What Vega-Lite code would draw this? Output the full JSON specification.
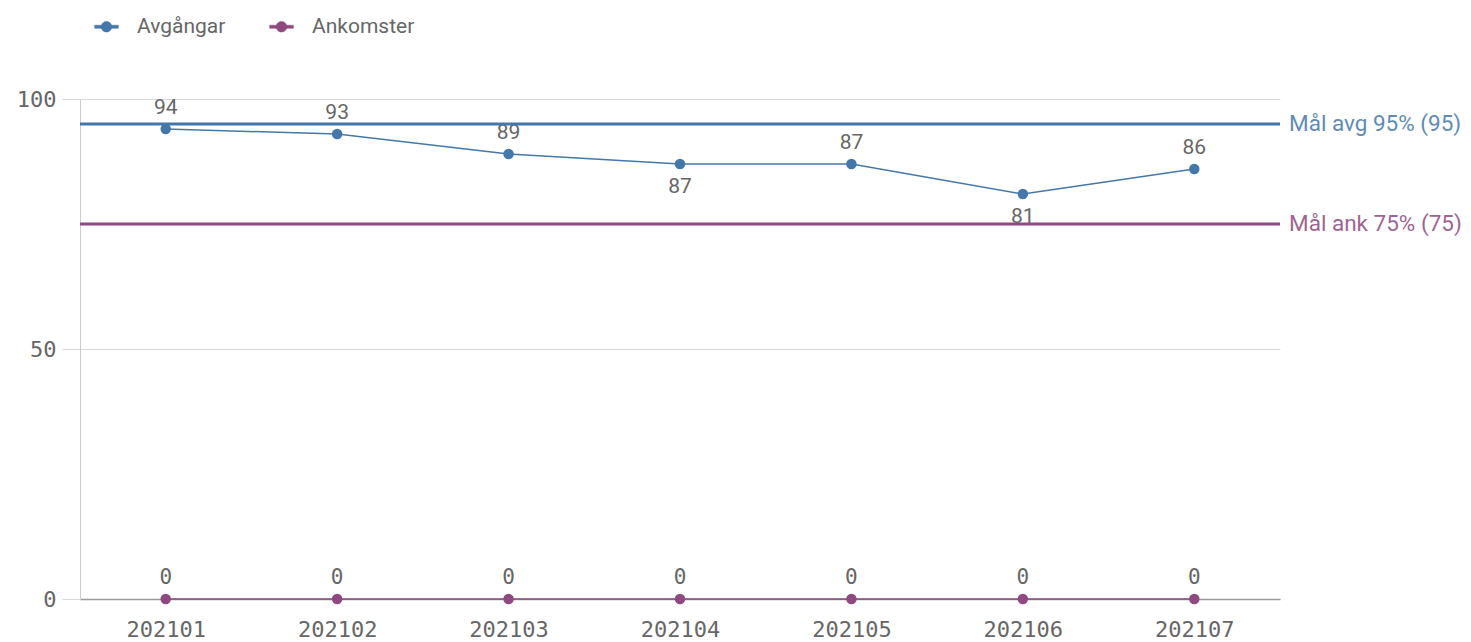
{
  "$schema": "https://vega.github.io/schema/vega-lite/v6.json",
  "width": 1200,
  "height": 500,
  "autosize": {"type": "none"},
  "padding": {"left": 80, "top": 99, "right": 191, "bottom": 43},
  "background": "white",
  "config": {
    "view": {"stroke": null},
    "font": "Roboto"
  },
  "datasets": {
    "series": [
      {"month": "202101", "series": "Avgångar", "value": 94},
      {"month": "202102", "series": "Avgångar", "value": 93},
      {"month": "202103", "series": "Avgångar", "value": 89},
      {"month": "202104", "series": "Avgångar", "value": 87},
      {"month": "202105", "series": "Avgångar", "value": 87},
      {"month": "202106", "series": "Avgångar", "value": 81},
      {"month": "202107", "series": "Avgångar", "value": 86},
      {"month": "202101", "series": "Ankomster", "value": 0},
      {"month": "202102", "series": "Ankomster", "value": 0},
      {"month": "202103", "series": "Ankomster", "value": 0},
      {"month": "202104", "series": "Ankomster", "value": 0},
      {"month": "202105", "series": "Ankomster", "value": 0},
      {"month": "202106", "series": "Ankomster", "value": 0},
      {"month": "202107", "series": "Ankomster", "value": 0}
    ],
    "refs": [
      {"label": "Mål avg 95% (95)", "series": "Avgångar", "value": 95},
      {"label": "Mål ank 75% (75)", "series": "Ankomster", "value": 75}
    ]
  },
  "layer": [
    {
      "data": {"name": "series"},
      "mark": {"type": "line", "strokeWidth": 1.5, "point": {"size": 110, "filled": true, "opacity": 1}},
      "encoding": {
        "x": {
          "field": "month", "type": "ordinal", "sort": null,
          "scale": {"type": "point", "padding": 0.5},
          "axis": {
            "title": null, "ticks": false, "domainColor": "#999", "domainWidth": 1.5,
            "labelFont": "DejaVu Sans Mono", "labelFontSize": 22, "labelColor": "#666666",
            "labelPadding": 20, "grid": false, "labelAngle": 0
          }
        },
        "y": {
          "field": "value", "type": "quantitative",
          "scale": {"domain": [0, 100], "nice": false},
          "axis": {
            "title": null, "values": [0, 50, 100], "grid": true, "gridColor": "#d9d9d9",
            "tickColor": "#d9d9d9", "tickSize": 18, "domainColor": "#cccccc",
            "labelFont": "DejaVu Sans Mono", "labelFontSize": 22, "labelColor": "#666666",
            "labelPadding": 6
          }
        },
        "color": {
          "field": "series", "type": "nominal",
          "scale": {"domain": ["Avgångar", "Ankomster"], "range": ["#4477aa", "#8e4a80"]},
          "legend": {
            "title": null, "orient": "none", "direction": "horizontal",
            "legendX": 14, "legendY": -85,
            "symbolType": "M-1,-0.13H1V0.13H-1Z M-0.45,0A0.45,0.45 0 1,1 0.45,0A0.45,0.45 0 1,1 -0.45,0Z",
            "symbolSize": 560, "symbolStrokeWidth": 0.5,
            "labelFontSize": 21, "labelColor": "#666666", "columnPadding": 42, "labelOffset": 18,
            "encode": {"symbols": {"update": {"fill": {"scale": "color", "field": "value"}, "opacity": {"value": 1}}}}
          }
        },
        "detail": {"field": "series"}
      }
    },
    {
      "data": {"name": "series"},
      "transform": [{"filter": "datum.series == 'Avgångar' && datum.month != '202104' && datum.month != '202106'"}],
      "mark": {"type": "text", "dy": -21, "fontSize": 21, "color": "#666666"},
      "encoding": {
        "x": {"field": "month", "type": "ordinal", "sort": null},
        "y": {"field": "value", "type": "quantitative"},
        "text": {"field": "value", "type": "quantitative"}
      }
    },
    {
      "data": {"name": "series"},
      "transform": [{"filter": "datum.series == 'Avgångar' && (datum.month == '202104' || datum.month == '202106')"}],
      "mark": {"type": "text", "dy": 23, "fontSize": 21, "color": "#666666"},
      "encoding": {
        "x": {"field": "month", "type": "ordinal", "sort": null},
        "y": {"field": "value", "type": "quantitative"},
        "text": {"field": "value", "type": "quantitative"}
      }
    },
    {
      "data": {"name": "series"},
      "transform": [{"filter": "datum.series == 'Ankomster'"}],
      "mark": {"type": "text", "dy": -21, "fontSize": 21, "font": "DejaVu Sans Mono", "color": "#666666"},
      "encoding": {
        "x": {"field": "month", "type": "ordinal", "sort": null},
        "y": {"field": "value", "type": "quantitative"},
        "text": {"field": "value", "type": "quantitative"}
      }
    },
    {
      "data": {"name": "refs"},
      "mark": {"type": "rule", "strokeWidth": 3},
      "encoding": {
        "y": {"field": "value", "type": "quantitative"},
        "color": {"field": "series", "type": "nominal", "legend": null}
      }
    },
    {
      "data": {"name": "refs"},
      "mark": {"type": "text", "align": "left", "dx": 9, "fontSize": 22.5, "opacity": 0.85},
      "encoding": {
        "x": {"value": "width"},
        "y": {"field": "value", "type": "quantitative"},
        "text": {"field": "label"},
        "color": {"field": "series", "type": "nominal", "legend": null}
      }
    }
  ]
}
